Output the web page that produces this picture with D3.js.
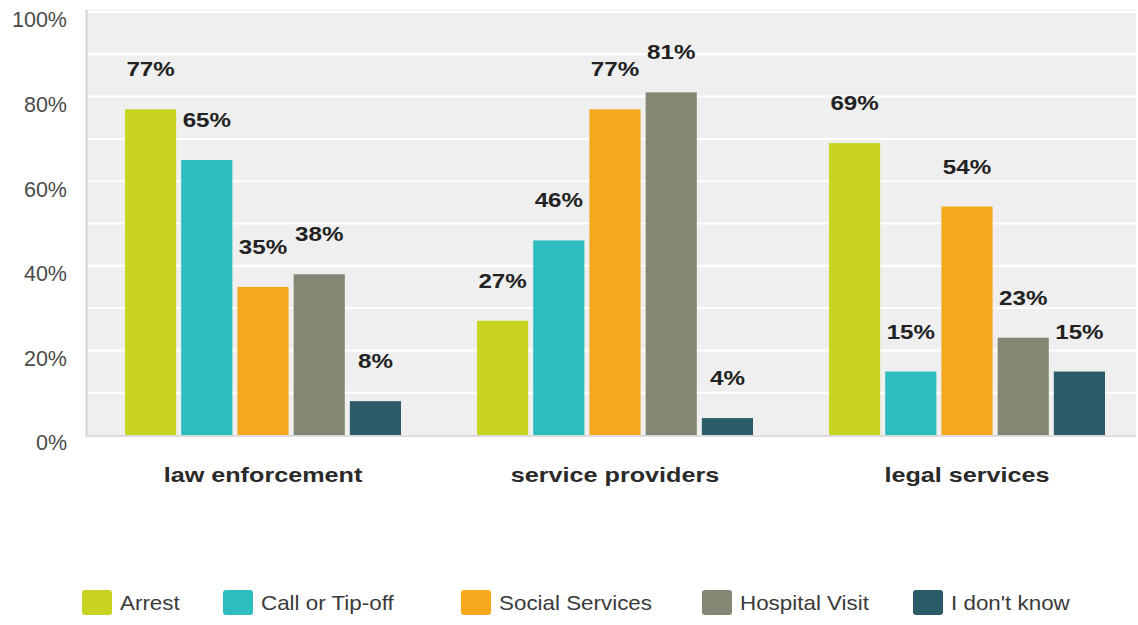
<!DOCTYPE html>
<html>
<head>
<meta charset="utf-8">
<script src="https://cdn.jsdelivr.net/npm/d3@7"></script>
<style>
  html, body { margin: 0; padding: 0; background: #fff; }
  svg { display: block; font-family: "Liberation Sans", Arial, sans-serif; }
</style>
</head>
<body>
<svg id="chart" width="1138" height="625"></svg>
<script>
// Audiences and response types
const groups = ["law enforcement", "service providers", "legal services"];
const responses = ["Arrest", "Call or Tip-off", "Social Services", "Hospital Visit", "I don't know"];

// Share of respondents (%) per response, one array per audience
const lawEnforcement = [77, 65, 35, 38, 8];
const serviceProviders = [27, 46, 77, 81, 4];
const legalServices = [69, 15, 54, 23, 15];
const seriesByGroup = [lawEnforcement, serviceProviders, legalServices];

const yTicks = [0, 20, 40, 60, 80, 100];
const yGrid = [10, 20, 30, 40, 50, 60, 70, 80, 90, 100];

const colors = ["#c9d321", "#2ebdbf", "#f5a81c", "#858674", "#2b5b69"];

const svg = d3.select("#chart");
const plot = { left: 87, right: 1136, top: 10, bottom: 436 };

const x0 = d3.scaleBand().domain(groups).range([87, 1143]).padding(0);
const x1 = d3.scaleBand().domain(responses)
  .range([38, x0.bandwidth() - 38]).paddingInner(0.09);
const y = d3.scaleLinear().domain([0, 100]).range([435, 12]);

// plot background
svg.append("rect")
  .attr("x", plot.left).attr("y", plot.top)
  .attr("width", plot.right - plot.left).attr("height", plot.bottom - plot.top)
  .attr("fill", "#efefef");

// white gridlines
svg.append("g").selectAll("line").data(yGrid).join("line")
  .attr("x1", plot.left).attr("x2", plot.right)
  .attr("y1", d => y(d)).attr("y2", d => y(d))
  .attr("stroke", "#ffffff").attr("stroke-width", 2);

// axis lines
svg.append("line")
  .attr("x1", plot.left - 0.5).attr("x2", plot.left - 0.5)
  .attr("y1", plot.top).attr("y2", plot.bottom + 1)
  .attr("stroke", "#d4d4d4").attr("stroke-width", 2);
svg.append("line")
  .attr("x1", plot.left).attr("x2", plot.right)
  .attr("y1", y(0) + 1).attr("y2", y(0) + 1)
  .attr("stroke", "#dcdcdc").attr("stroke-width", 2);

// y axis labels
const yAxis = d3.axisLeft(y).tickValues(yTicks).tickFormat(d => d + "%").tickSize(0).tickPadding(0);
const yg = svg.append("g").attr("transform", "translate(67,8)").call(yAxis);
yg.select(".domain").remove();
yg.selectAll("text")
  .attr("font-family", "'Liberation Sans', Arial, sans-serif")
  .attr("font-size", 21.5).attr("fill", "#4a4a4a");

// bars
const grp = svg.append("g").selectAll("g").data(groups).join("g")
  .attr("transform", d => `translate(${x0(d)},0)`);

grp.selectAll("rect")
  .data((g, gi) => responses.map((r, i) => ({ r, v: seriesByGroup[gi][i], i })))
  .join("rect")
  .attr("x", d => x1(d.r))
  .attr("width", x1.bandwidth())
  .attr("y", d => y(d.v))
  .attr("height", d => y(0) - y(d.v))
  .attr("fill", d => colors[d.i]);

// value labels
grp.selectAll("text.val")
  .data((g, gi) => responses.map((r, i) => ({ r, v: seriesByGroup[gi][i], i })))
  .join("text")
  .attr("class", "val")
  .attr("transform", d => `translate(${x1(d.r) + x1.bandwidth() / 2},${y(d.v) - 33}) scale(1.15,1)`)
  .attr("text-anchor", "middle")
  .attr("font-size", 21).attr("font-weight", "bold").attr("fill", "#222")
  .text(d => d.v + "%");

// category labels
svg.append("g").selectAll("text").data(groups).join("text")
  .attr("transform", d => `translate(${x0(d) + x0.bandwidth() / 2},482) scale(1.26,1)`)
  .attr("text-anchor", "middle")
  .attr("font-size", 20).attr("font-weight", "bold").attr("fill", "#2a2a2a")
  .text(d => d);

// legend
const legendX = [82, 223, 461, 702, 913];
const lg = svg.append("g").selectAll("g").data(responses).join("g")
  .attr("transform", (d, i) => `translate(${legendX[i]},590)`);
lg.append("rect")
  .attr("width", 30).attr("height", 25).attr("rx", 3)
  .attr("fill", (d, i) => colors[i]);
lg.append("text")
  .attr("transform", "translate(38,20) scale(1.12,1)")
  .attr("font-size", 20).attr("fill", "#3a3a3a")
  .text(d => d);
</script>
</body>
</html>
